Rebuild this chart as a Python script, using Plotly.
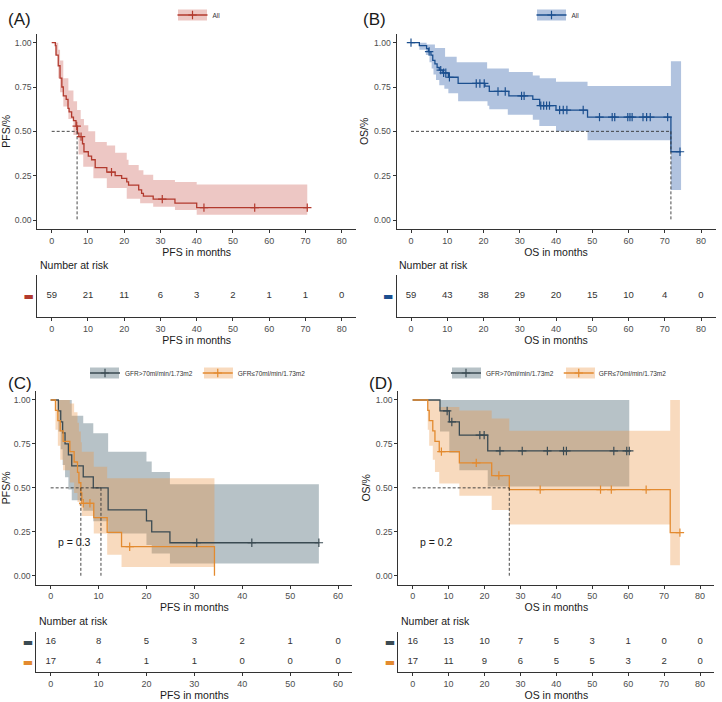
import plotly.graph_objects as go

W, H = 722, 702
FONT = "Liberation Sans, Arial, sans-serif"

# ---------------- data ----------------
TICKS_80 = [0, 10, 20, 30, 40, 50, 60, 70, 80]
TICKS_60 = [0, 10, 20, 30, 40, 50, 60]
Y_TICKS = [0, 0.25, 0.5, 0.75, 1.0]
Y_TICK_LABELS = ["0.00", "0.25", "0.50", "0.75", "1.00"]
GROUPS = ["GFR>70ml/min/1.73m2", "GFR≤70ml/min/1.73m2"]

# (A) PFS, all patients
A_t = [0, 1.0, 1.2, 1.8, 2.3, 2.8, 3.2, 4.0, 4.5, 4.8, 5.5, 6.0, 6.7, 7.1, 7.5, 8.5, 8.9, 10.1,
       11.0, 12.0, 15.2, 17.5, 19.3, 20.7, 21.2, 24.0, 24.8, 25.3, 28.0, 34.0, 40.0, 70.5]
A_s = [1.0, 0.983, 0.93, 0.87, 0.80, 0.75, 0.70, 0.68, 0.63, 0.61, 0.58, 0.56, 0.53, 0.49, 0.47, 0.43,
       0.385, 0.36, 0.34, 0.295, 0.27, 0.25, 0.235, 0.215, 0.197, 0.17, 0.15, 0.135, 0.118, 0.095, 0.07, 0.07]
A_cens_t = [6.9, 8.1, 16.5, 30.5, 42.0, 56.0, 70.5]
A_cens_s = [0.53, 0.47, 0.27, 0.118, 0.07, 0.07, 0.07]
A_up_t = [0, 1.0, 1.8, 2.3, 3.2, 4.6, 6.0, 7.0, 8.0, 8.9, 10.1, 12.0, 15.2, 17.5, 20.7, 21.2, 24.0,
          25.3, 28.0, 34.0, 40.0, 70.5]
A_up = [1.0, 1.0, 0.96, 0.90, 0.80, 0.73, 0.67, 0.62, 0.57, 0.535, 0.50, 0.44, 0.42, 0.38, 0.34, 0.31,
        0.28, 0.255, 0.225, 0.215, 0.20, 0.20]
A_lo_t = [0, 1.0, 1.8, 2.3, 3.2, 4.6, 6.0, 7.4, 8.7, 11.5, 15.2, 20.7, 24.4, 28.0, 34.0, 40.0, 70.5]
A_lo = [1.0, 0.93, 0.80, 0.72, 0.64, 0.57, 0.48, 0.37, 0.30, 0.235, 0.18, 0.12, 0.094, 0.075, 0.056, 0.03, 0.03]
A_median = 7.0
A_risk = [59, 21, 11, 6, 3, 2, 1, 1, 0]

# (B) OS, all patients
B_t = [0, 2.3, 4.3, 4.8, 5.5, 6.0, 6.6, 7.2, 7.8, 8.8, 10.3, 13.0, 20.4, 21.6, 27.0, 33.6, 35.5, 40.0,
       48.7, 71.7, 74.5]
B_s = [1.0, 0.983, 0.966, 0.95, 0.93, 0.90, 0.88, 0.86, 0.845, 0.83, 0.805, 0.77, 0.755, 0.725, 0.70,
       0.68, 0.645, 0.62, 0.58, 0.385, 0.385]
B_cens_t = [0, 5.0, 8.2, 9.0, 9.6, 10.6, 18.0, 19.0, 20.2, 24.0, 26.0, 30.5, 31.2, 35.8, 36.6, 37.4,
            38.2, 41.0, 42.0, 43.0, 47.5, 52.0, 55.5, 56.2, 59.8, 60.4, 61.0, 64.0, 65.0, 66.0, 70.8, 74.2]
B_cens_s = [1.0, 0.95, 0.845, 0.83, 0.83, 0.805, 0.77, 0.77, 0.77, 0.725, 0.725, 0.70, 0.70, 0.645,
            0.645, 0.645, 0.645, 0.62, 0.62, 0.62, 0.62, 0.58, 0.58, 0.58, 0.58, 0.58, 0.58, 0.58, 0.58,
            0.58, 0.58, 0.385]
B_up_t = [0, 2.3, 4.3, 6.6, 9.4, 12.6, 21.0, 27.0, 33.6, 35.5, 40.0, 48.7, 71.7, 74.5]
B_up = [1.0, 1.0, 0.99, 0.97, 0.92, 0.89, 0.855, 0.835, 0.815, 0.80, 0.78, 0.755, 0.895, 0.895]
B_lo_t = [0, 2.3, 4.1, 5.1, 5.7, 6.2, 6.9, 7.8, 9.2, 10.3, 13.0, 21.1, 21.6, 26.7, 33.6, 35.4, 40.0,
          48.7, 71.7, 74.5]
B_lo = [1.0, 0.96, 0.93, 0.89, 0.855, 0.82, 0.79, 0.76, 0.74, 0.715, 0.67, 0.645, 0.625, 0.594,
        0.565, 0.53, 0.50, 0.45, 0.17, 0.17]
B_median = 71.7
B_risk = [59, 43, 38, 29, 20, 15, 10, 4, 0]

# (C) PFS by GFR
C1_t = [0, 1.6, 2.1, 2.5, 3.0, 3.7, 4.4, 6.8, 8.9, 12.0, 20.0, 21.1, 24.9, 56.0]
C1_s = [1.0, 0.9375, 0.875, 0.8125, 0.75, 0.6875, 0.625, 0.5625, 0.5, 0.375, 0.3125, 0.25, 0.1875, 0.1875]
C1_cens_t = [30.5, 42.0, 56.0]
C1_cens_s = [0.1875, 0.1875, 0.1875]
C1_up_t = [0, 1.6, 4.4, 6.8, 8.9, 12.0, 20.0, 21.1, 24.9, 56.0]
C1_up = [1.0, 1.0, 0.91, 0.867, 0.81, 0.706, 0.65, 0.59, 0.52, 0.52]
C1_lo_t = [0, 1.6, 2.1, 2.5, 3.0, 3.7, 4.4, 6.8, 8.9, 12.0, 20.0, 21.1, 24.9, 56.0]
C1_lo = [1.0, 0.82, 0.72, 0.63, 0.56, 0.49, 0.43, 0.37, 0.31, 0.24, 0.175, 0.127, 0.07, 0.07]
C2_t = [0, 1.0, 1.5, 2.0, 2.6, 4.0, 4.9, 5.6, 5.9, 6.3, 6.5, 9.0, 11.8, 14.8, 34.2]
C2_s = [1.0, 0.941, 0.882, 0.824, 0.765, 0.706, 0.647, 0.588, 0.529, 0.471, 0.412, 0.33, 0.247, 0.165, 0.0]
C2_cens_t = [6.8, 8.2, 16.5]
C2_cens_s = [0.412, 0.412, 0.165]
C2_up_t = [0, 1.0, 4.0, 4.9, 5.6, 5.9, 6.3, 6.5, 9.0, 11.8, 34.2]
C2_up = [1.0, 1.0, 0.98, 0.93, 0.87, 0.82, 0.76, 0.706, 0.62, 0.555, 0.555]
C2_lo_t = [0, 1.0, 1.5, 2.0, 2.6, 4.0, 4.9, 5.6, 5.9, 6.3, 6.5, 9.0, 11.8, 14.8, 34.2]
C2_lo = [1.0, 0.83, 0.74, 0.66, 0.60, 0.53, 0.47, 0.42, 0.40, 0.37, 0.34, 0.24, 0.12, 0.05, 0.05]
C_medians = [10.5, 6.3]
C_pval = "p = 0.3"
C_risk1 = [16, 8, 5, 3, 2, 1, 0]
C_risk2 = [17, 4, 1, 1, 0, 0, 0]

# (D) OS by GFR
D1_t = [0, 7.6, 10.2, 13.0, 20.9, 60.3]
D1_s = [1.0, 0.9375, 0.875, 0.80, 0.71, 0.71]
D1_cens_t = [9.6, 10.9, 18.7, 19.9, 24.3, 30.5, 37.5, 42.0, 42.8, 56.0, 59.6, 60.3]
D1_cens_s = [0.9375, 0.875, 0.80, 0.80, 0.71, 0.71, 0.71, 0.71, 0.71, 0.71, 0.71, 0.71]
D1_up_t = [0, 60.3]
D1_up = [1.0, 1.0]
D1_lo_t = [0, 7.6, 10.2, 13.0, 20.9, 60.3]
D1_lo = [1.0, 0.82, 0.70, 0.60, 0.507, 0.507]
D2_t = [0, 4.2, 4.6, 5.6, 6.2, 7.4, 13.0, 22.0, 26.9, 71.7, 74.4]
D2_s = [1.0, 0.941, 0.882, 0.824, 0.765, 0.706, 0.642, 0.57, 0.49, 0.245, 0.245]
D2_cens_t = [8.0, 17.7, 24.0, 35.5, 52.3, 55.3, 65.0, 74.4]
D2_cens_s = [0.706, 0.642, 0.57, 0.49, 0.49, 0.49, 0.49, 0.245]
D2_up_t = [0, 4.2, 7.4, 13.0, 22.0, 26.9, 71.7, 74.4]
D2_up = [1.0, 1.0, 0.96, 0.94, 0.895, 0.825, 1.0, 1.0]
D2_lo_t = [0, 4.2, 4.6, 5.6, 6.2, 7.4, 13.0, 22.0, 26.9, 71.7, 74.4]
D2_lo = [1.0, 0.83, 0.74, 0.66, 0.59, 0.525, 0.455, 0.374, 0.292, 0.06, 0.06]
D_medians = [26.9]
D_pval = "p = 0.2"
D_risk1 = [16, 13, 10, 7, 5, 3, 1, 0, 0]
D_risk2 = [17, 11, 9, 6, 5, 5, 3, 2, 0]

# ---------------- style ----------------
RED, RED_F = "#B23A2E", "rgba(200,80,70,0.32)"
BLUE, BLUE_F = "#1B4F8F", "rgba(40,90,165,0.36)"
GRAY, GRAY_F = "#3A4A52", "rgba(50,80,95,0.35)"
ORNG, ORNG_F = "#E38A2F", "rgba(235,150,70,0.35)"
AX = "#333333"
TXT = "#4D4D4D"
CENS_SIZE = 6


def fx(p):
    return p / W


def fy(p):
    return 1 - p / H


fig = go.Figure()


def ax_name(a, i):
    return a if i == 1 else f"{a}{i}"


def add_band(i, lo_t, lo, up_t, up, fill):
    fig.add_trace(go.Scatter(x=lo_t, y=lo, mode="lines", line=dict(width=0, shape="hv"),
                             hoverinfo="skip", showlegend=False,
                             xaxis=ax_name("x", i), yaxis=ax_name("y", i)))
    fig.add_trace(go.Scatter(x=up_t, y=up, mode="lines", line=dict(width=0, shape="hv"),
                             fill="tonexty", fillcolor=fill, hoverinfo="skip", showlegend=False,
                             xaxis=ax_name("x", i), yaxis=ax_name("y", i)))


def add_curve(i, t, s, color):
    fig.add_trace(go.Scatter(x=t, y=s, mode="lines", line=dict(color=color, width=1.3, shape="hv"),
                             showlegend=False, xaxis=ax_name("x", i), yaxis=ax_name("y", i)))


def add_cens(i, t, s, color):
    fig.add_trace(go.Scatter(x=t, y=s, mode="markers",
                             marker=dict(symbol="cross-thin", size=CENS_SIZE, line=dict(width=1.2, color=color)),
                             showlegend=False, xaxis=ax_name("x", i), yaxis=ax_name("y", i)))


def add_medians(i, meds):
    fig.add_trace(go.Scatter(x=[0, max(meds)], y=[0.5, 0.5], mode="lines",
                             line=dict(color=AX, width=0.9, dash="3px,2px"), showlegend=False,
                             xaxis=ax_name("x", i), yaxis=ax_name("y", i)))
    for m in meds:
        fig.add_trace(go.Scatter(x=[m, m], y=[0.5, 0], mode="lines",
                                 line=dict(color=AX, width=0.9, dash="3px,2px"), showlegend=False,
                                 xaxis=ax_name("x", i), yaxis=ax_name("y", i)))


def add_legend_item(i, name, color, leg):
    fig.add_trace(go.Scatter(x=[None], y=[None], name=name, mode="lines+markers",
                             line=dict(color=color, width=1.3),
                             marker=dict(symbol="cross-thin", size=CENS_SIZE, line=dict(width=1.2, color=color)),
                             legend=leg, xaxis=ax_name("x", i), yaxis=ax_name("y", i)))


def add_risk(i, times, rows):
    for row, vals in rows:
        fig.add_trace(go.Scatter(x=times, y=[row] * len(times), mode="text",
                                 text=[str(v) for v in vals], cliponaxis=False,
                                 textfont=dict(size=9.5, color="#333333", family=FONT),
                                 showlegend=False, xaxis=ax_name("x", i), yaxis=ax_name("y", i)))


# Panel A (axes 1), risk A (axes 2)
add_band(1, A_lo_t, A_lo, A_up_t, A_up, RED_F)
add_curve(1, A_t, A_s, RED)
add_medians(1, [A_median])
add_cens(1, A_cens_t, A_cens_s, RED)
add_legend_item(1, "All", RED, "legend")
add_risk(2, TICKS_80, [(0, A_risk)])

# Panel B (axes 3), risk B (axes 4)
add_band(3, B_lo_t, B_lo, B_up_t, B_up, BLUE_F)
add_curve(3, B_t, B_s, BLUE)
add_medians(3, [B_median])
add_cens(3, B_cens_t, B_cens_s, BLUE)
add_legend_item(3, "All", BLUE, "legend2")
add_risk(4, TICKS_80, [(0, B_risk)])

# Panel C (axes 5), risk C (axes 6)
add_band(5, C1_lo_t, C1_lo, C1_up_t, C1_up, GRAY_F)
add_band(5, C2_lo_t, C2_lo, C2_up_t, C2_up, ORNG_F)
add_curve(5, C1_t, C1_s, GRAY)
add_curve(5, C2_t, C2_s, ORNG)
add_medians(5, C_medians)
add_cens(5, C1_cens_t, C1_cens_s, GRAY)
add_cens(5, C2_cens_t, C2_cens_s, ORNG)
add_legend_item(5, GROUPS[0], GRAY, "legend3")
add_legend_item(5, GROUPS[1], ORNG, "legend3")
add_risk(6, TICKS_60, [(1, C_risk1), (0, C_risk2)])

# Panel D (axes 7), risk D (axes 8)
add_band(7, D1_lo_t, D1_lo, D1_up_t, D1_up, GRAY_F)
add_band(7, D2_lo_t, D2_lo, D2_up_t, D2_up, ORNG_F)
add_curve(7, D1_t, D1_s, GRAY)
add_curve(7, D2_t, D2_s, ORNG)
add_medians(7, D_medians)
add_cens(7, D1_cens_t, D1_cens_s, GRAY)
add_cens(7, D2_cens_t, D2_cens_s, ORNG)
add_legend_item(7, GROUPS[0], GRAY, "legend4")
add_legend_item(7, GROUPS[1], ORNG, "legend4")
add_risk(8, TICKS_80, [(1, D_risk1), (0, D_risk2)])


def xaxis(dom, rng, ticks, title, anchor):
    return dict(domain=[fx(dom[0]), fx(dom[1])], range=rng, tickvals=ticks, ticks="outside", ticklen=3,
                tickcolor=AX, showline=True, linecolor=AX, linewidth=1, showgrid=False, zeroline=False,
                tickfont=dict(size=9, color=TXT, family=FONT),
                title=dict(text=title, font=dict(size=10.5, color="#1A1A1A", family=FONT), standoff=0),
                anchor=anchor, fixedrange=True)


def yaxis_main(dom, title, anchor):
    return dict(domain=[fy(dom[1]), fy(dom[0])], range=[-0.05, 1.05], tickvals=Y_TICKS,
                ticktext=Y_TICK_LABELS, ticks="outside", ticklen=3, tickcolor=AX, showline=True,
                linecolor=AX, linewidth=1, showgrid=False, zeroline=False,
                tickfont=dict(size=8.6, color=TXT, family=FONT),
                title=dict(text=title, font=dict(size=10.5, color="#1A1A1A", family=FONT), standoff=3),
                anchor=anchor, fixedrange=True)


def yaxis_risk(dom, rng, vals, colors, anchor):
    return dict(domain=[fy(dom[1]), fy(dom[0])], range=rng, tickvals=vals,
                ticktext=[f"<span style='color:{c}'>▬</span>" for c in colors], ticks="",
                showline=True, linecolor=AX, linewidth=1, showgrid=False, zeroline=False,
                tickfont=dict(size=11, family="DejaVu Sans"), anchor=anchor, fixedrange=True)


A_X, B_X = (37.2, 356.2), (396.5, 715.5)
C_X, D_X = (36.3, 352.4), (398.3, 714.4)
TOP_Y, RISK1_Y = (33.8, 228.9), (275, 317)
BOT_Y, RISK2_Y = (391.2, 584.5), (632, 672)

layout = dict(
    width=W, height=H, margin=dict(l=0, r=0, t=0, b=0), paper_bgcolor="white", plot_bgcolor="white",
    font=dict(family=FONT, color="#1A1A1A"), hovermode=False,
    xaxis=xaxis(A_X, [-4, 84], TICKS_80, "PFS in months", "y"),
    yaxis=yaxis_main(TOP_Y, "PFS/%", "x"),
    xaxis2=xaxis(A_X, [-4, 84], TICKS_80, "PFS in months", "y2"),
    yaxis2=yaxis_risk(RISK1_Y, [-1, 1], [0], [RED], "x2"),
    xaxis3=xaxis(B_X, [-4, 84], TICKS_80, "OS in months", "y3"),
    yaxis3=yaxis_main(TOP_Y, "OS/%", "x3"),
    xaxis4=xaxis(B_X, [-4, 84], TICKS_80, "OS in months", "y4"),
    yaxis4=yaxis_risk(RISK1_Y, [-1, 1], [0], [BLUE], "x4"),
    xaxis5=xaxis(C_X, [-3, 63], TICKS_60, "PFS in months", "y5"),
    yaxis5=yaxis_main(BOT_Y, "PFS/%", "x5"),
    xaxis6=xaxis(C_X, [-3, 63], TICKS_60, "PFS in months", "y6"),
    yaxis6=yaxis_risk(RISK2_Y, [-0.5, 1.5], [1, 0], [GRAY, ORNG], "x6"),
    xaxis7=xaxis(D_X, [-4, 84], TICKS_80, "OS in months", "y7"),
    yaxis7=yaxis_main(BOT_Y, "OS/%", "x7"),
    xaxis8=xaxis(D_X, [-4, 84], TICKS_80, "OS in months", "y8"),
    yaxis8=yaxis_risk(RISK2_Y, [-0.5, 1.5], [1, 0], [GRAY, ORNG], "x8"),
)

leg_common = dict(orientation="h", xanchor="center", yanchor="middle", bgcolor="rgba(0,0,0,0)",
                  font=dict(size=6.5, color="#333333", family=FONT), itemclick=False, itemdoubleclick=False)
layout["legend"] = dict(x=fx(199), y=fy(15), **leg_common)
layout["legend2"] = dict(x=fx(558), y=fy(15), **leg_common)
layout["legend3"] = dict(x=fx(198), y=fy(373), **leg_common)
layout["legend4"] = dict(x=fx(559), y=fy(373), **leg_common)

# shaded key backgrounds behind the legend symbols (ggplot-style fill keys)
key_boxes = [((178, 207), 15, RED_F), ((537, 566), 15, BLUE_F),
             ((90, 119), 373, GRAY_F), ((204, 233), 373, ORNG_F),
             ((452, 481), 373, GRAY_F), ((566, 595), 373, ORNG_F)]
shapes = []
for (x0, x1), yc, col in key_boxes:
    shapes.append(dict(type="rect", xref="paper", yref="paper", x0=fx(x0), x1=fx(x1),
                       y0=fy(yc + 5.5), y1=fy(yc - 5.5), fillcolor=col, line=dict(width=0), layer="below"))
layout["shapes"] = shapes

annos = []
for label, x, y in [("(A)", 6, 20), ("(B)", 361, 20), ("(C)", 6, 383), ("(D)", 367, 383)]:
    annos.append(dict(text=label, x=fx(x), y=fy(y), xref="paper", yref="paper", xanchor="left",
                      yanchor="middle", showarrow=False, font=dict(size=17, color="#1A1A1A", family=FONT)))
for x, y in [(37.5, 265), (397, 265), (37, 621), (399, 621)]:
    annos.append(dict(text="Number at risk", x=fx(x), y=fy(y), xref="paper", yref="paper",
                      xanchor="left", yanchor="middle", showarrow=False,
                      font=dict(size=10.5, color="#1A1A1A", family=FONT)))
annos.append(dict(text=C_pval, x=1.2, y=0.19, xref="x5", yref="y5", xanchor="left", yanchor="middle",
                  showarrow=False, font=dict(size=10.5, color="#1A1A1A", family=FONT)))
annos.append(dict(text=D_pval, x=1.4, y=0.19, xref="x7", yref="y7", xanchor="left", yanchor="middle",
                  showarrow=False, font=dict(size=10.5, color="#1A1A1A", family=FONT)))
layout["annotations"] = annos

fig.update_layout(**layout)
fig.write_html("out.html")
